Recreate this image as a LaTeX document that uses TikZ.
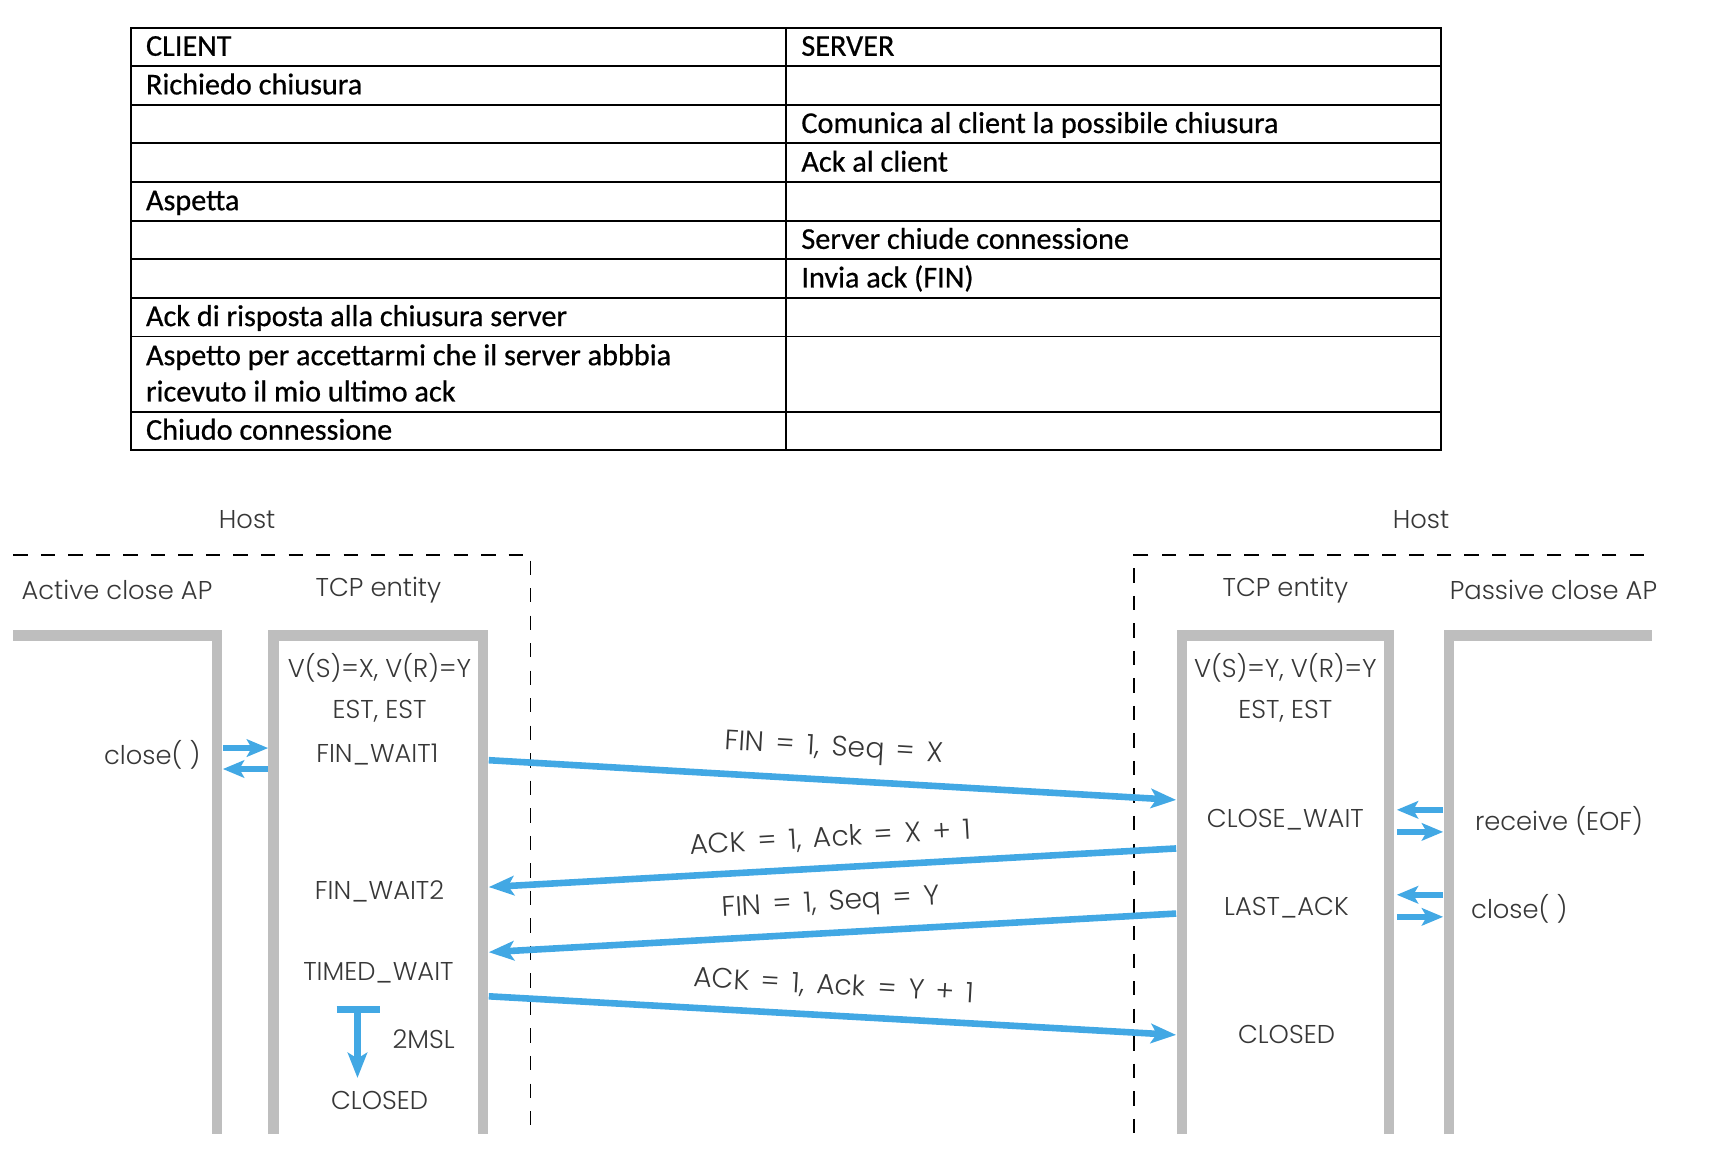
\documentclass[tikz,border=0pt]{standalone}
\usepackage{fontspec}
\usepackage{tikz}
\usetikzlibrary{arrows.meta}
\newfontfamily\calibri{Carlito}[RawFeature={embolden=0.6}]
\newfontfamily\futura{Poppins Light}
\newcommand\msgfont{\futura\fontsize{14.5}{17}\selectfont\spaceskip=0.42em plus 0.1em\relax}
\definecolor{msgblue}{RGB}{66,168,228}
\definecolor{linegray}{RGB}{190,190,190}
\definecolor{txtgray}{RGB}{55,55,55}

\begin{document}
\begin{tikzpicture}[x=0.02cm,y=-0.02cm]
\tikzset{cell/.style = {anchor=west, inner sep=0pt, font=\calibri\fontsize{15.6}{18.7}\selectfont, text height=1.6ex, text depth=0.4ex},
  lbl/.style = {inner sep=1pt, text=txtgray, font=\futura\fontsize{13.3}{15}\selectfont},
  msglbl/.style = {lbl, font=\msgfont},
  lifeline/.style = {line width=5.3pt, linegray},
  host/.style = {line width=0.8pt, dash pattern=on 7.4pt off 6.8pt},
  msg/.style = {line width=3.4pt, msgblue, -{Stealth[length=13pt,width=10pt,inset=3pt]}},
  call/.style = {line width=2.8pt, msgblue, -{Stealth[length=11pt,width=9pt,inset=2.5pt]}}}
\useasboundingbox (0,0) rectangle (1568,1064);
% tabella client / server
\draw[line width=1pt] (119,25) rectangle (1306,408);
\draw[line width=1pt] (712,25) -- (712,408);
\foreach \y in {60,95,130,165,200,235,270,305,373}
   \draw[line width=1pt] (119,\y) -- (1306,\y);
\node[cell] (cl1) at (132,46) {CLIENT};
\node[cell] (sv1) at (726,46) {SERVER};
\node[cell] (cl2) at (132,81) {Richiedo chiusura};
\node[cell] (sv3) at (726,116) {Comunica al client la possibile chiusura};
\node[cell] (sv4) at (726,151) {Ack al client};
\node[cell] (cl5) at (132,186) {Aspetta};
\node[cell] (sv6) at (726,221) {Server chiude connessione};
\node[cell] (sv7) at (726,256) {Invia ack (FIN)};
\node[cell] (cl8) at (132,291) {Ack di risposta alla chiusura server};
\node[cell, text height=, text depth=, align=left] (cl9) at (132,338) {Aspetto per accettarmi che il server abbbia\\ricevuto il mio ultimo ack};
\node[cell] (cl10) at (132,394) {Chiudo connessione};
% host
\node[lbl] (hostA) at (224,471) {Host};
\node[lbl] (hostB) at (1288,471) {Host};
\draw[host] (12,503) -- (481,503) -- (481,1028);
\draw[host] (1490,503) -- (1028,503) -- (1028,1028);
\node[lbl] (apA) at (106,535) {Active close AP};
\node[lbl] (tcpA) at (343,535) {TCP entity};
\node[lbl] (tcpB) at (1165,535) {TCP entity};
\node[lbl] (apB) at (1408,535) {Passive close AP};
% linee grigie
\draw[lifeline] (12,576) -- (197,576) -- (197,1028);
\draw[lifeline] (248,1028) -- (248,576) -- (438,576) -- (438,1028);
\draw[lifeline] (1071,1028) -- (1071,576) -- (1259,576) -- (1259,1028);
\draw[lifeline] (1313,1028) -- (1313,576) -- (1497,576);
% stati client
\node[lbl] (vsA) at (344,605) {V(S)=X, V(R)=Y};
\node[lbl] (estA) at (344,645) {EST, EST};
\node[lbl] (fw1) at (342,684) {FIN\_WAIT1};
\node[lbl] (fw2) at (344,808) {FIN\_WAIT2};
\node[lbl] (tw) at (343,882) {TIMED\_WAIT};
\node[lbl] (msl) at (384,942) {2MSL};
\node[lbl] (clA) at (344,997) {CLOSED};
\node[lbl] (closeA) at (138,684) {close( )};
% stati server
\node[lbl] (vsB) at (1165,605) {V(S)=Y, V(R)=Y};
\node[lbl] (estB) at (1165,645) {EST, EST};
\node[lbl] (cw) at (1165,743) {CLOSE\_WAIT};
\node[lbl] (la) at (1166,823) {LAST\_ACK};
\node[lbl] (clB) at (1166,938) {CLOSED};
\node[lbl] (recv) at (1413,744) {receive (EOF)};
\node[lbl] (closeB) at (1377,824) {close( )};
% punti dei messaggi
\coordinate (m1a) at (443,689);  \coordinate (m1b) at (1066,725);
\coordinate (m2a) at (1066,769); \coordinate (m2b) at (443,804);
\coordinate (m3a) at (1066,828); \coordinate (m3b) at (443,863);
\coordinate (m4a) at (443,903);  \coordinate (m4b) at (1066,938);
\draw[msg] (m1a) -- node[msglbl, sloped, above=6pt] (t1) {FIN = 1, Seq = X} (m1b);
\draw[msg] (m2a) -- node[msglbl, sloped, above=6pt] (t2) {ACK = 1, Ack = X + 1} (m2b);
\draw[msg] (m3a) -- node[msglbl, sloped, above=5pt] (t3) {FIN = 1, Seq = Y} (m3b);
\draw[msg] (m4a) -- node[msglbl, sloped, above=6pt] (t4) {ACK = 1, Ack = Y + 1} (m4b);
% chiamate AP <-> TCP
\coordinate (a1) at (202,678); \coordinate (a2) at (243,678);
\coordinate (a3) at (243,697); \coordinate (a4) at (202,697);
\draw[call] (a1) -- (a2);
\draw[call] (a3) -- (a4);
\foreach \y/\z in {734/754,811/831}{
   \draw[call] (1308,\y) -- (1266,\y);
   \draw[call] (1266,\z) -- (1308,\z);
}
% timer 2MSL
\coordinate (tmr) at (324,915); \coordinate (tmrEnd) at (324,977);
\draw[msgblue, line width=4pt] (305,915) -- (344,915);
\draw[msg] (tmr) -- (tmrEnd);
\end{tikzpicture}
\end{document}
